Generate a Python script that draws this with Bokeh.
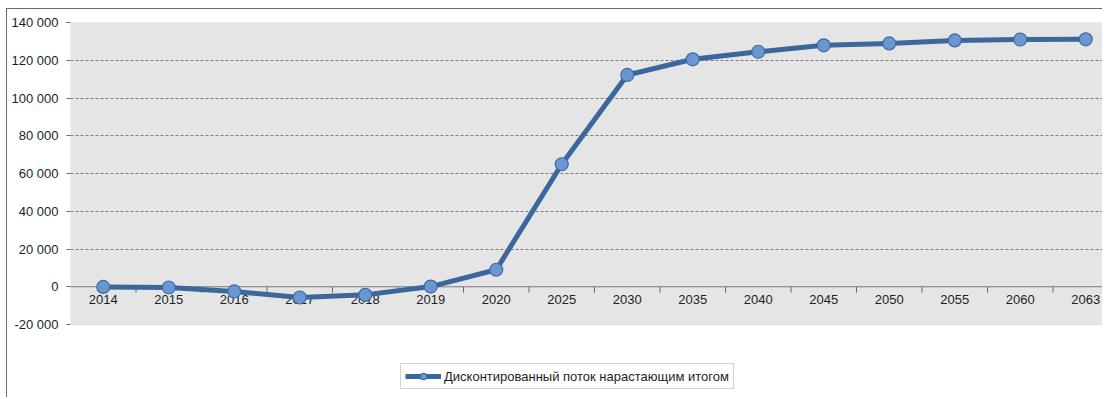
from bokeh.plotting import figure
from bokeh.models import (Range1d, FixedTicker, Legend, LegendItem, BoxAnnotation,
                          Span, ColumnDataSource)
from bokeh.core.properties import value
from bokeh.embed import file_html
from bokeh.resources import INLINE

# ---- data ----
years = ["2014", "2015", "2016", "2017", "2018", "2019", "2020", "2025", "2030",
         "2035", "2040", "2045", "2050", "2055", "2060", "2063"]
cum_flow = [-100, -400, -2500, -5700, -4300, 100, 9000, 64900, 112200,
            120500, 124500, 127900, 128900, 130500, 131000, 131100]
y_ticks = [-20000, 0, 20000, 40000, 60000, 80000, 100000, 120000, 140000]
y_tick_labels = ["-20 000", "0", "20 000", "40 000", "60 000", "80 000",
                 "100 000", "120 000", "140 000"]
series_name = "Дисконтированный поток нарастающим итогом"

xs = list(range(len(years)))
bounds = [i + 0.5 for i in xs[:-1]]
src = ColumnDataSource(dict(x=xs, y=cum_flow, year=years))

FONT = "Liberation Sans"
TXT = "#1e1e1e"

# ---- layout (pixels) ----
W, H = 1096, 389
LEFT, TOP = 63, 13
CAT_PX = 65.5                      # width of one category
y_min, y_max = min(y_ticks), max(y_ticks)
px_per_unit = 302.0 / (y_max - y_min)   # plot area height / value span
frame_h = H - TOP
y_start = y_max - frame_h / px_per_unit

p = figure(width=W, height=H, output_backend="svg", toolbar_location=None,
           x_range=Range1d(-0.5, -0.5 + (W - LEFT) / CAT_PX),
           y_range=Range1d(y_start, y_max),
           x_axis_location=None, min_border_left=LEFT, min_border_top=TOP,
           min_border_right=0, min_border_bottom=0,
           background_fill_color="white", border_fill_color="white",
           outline_line_color=None,
           styles={"margin-left": "6px", "margin-top": "8px",
                   "border-left": "1px solid #6a6a6a", "border-top": "1px solid #6a6a6a"})
p.xgrid.visible = False

# grey plot area
p.add_layout(BoxAnnotation(bottom=y_min, top=y_max, fill_color="#e5e5e5", fill_alpha=1,
                           line_color="#b8b8b8", line_width=1, level="image"))

# y axis
p.yaxis.ticker = FixedTicker(ticks=y_ticks)
p.yaxis.major_label_overrides = {t: l for t, l in zip(y_ticks, y_tick_labels)}
p.yaxis.major_label_text_font = FONT
p.yaxis.major_label_text_font_size = "13px"
p.yaxis.major_label_text_color = TXT
p.yaxis.major_tick_out = 4
p.yaxis.major_tick_in = 0
p.yaxis.minor_tick_line_color = None
p.yaxis.major_tick_line_color = "#6a6a6a"
p.yaxis.axis_line_color = None
p.yaxis.major_label_standoff = 8

p.ygrid.ticker = FixedTicker(ticks=[t for t in y_ticks if 0 < t < y_max])
p.ygrid.grid_line_color = "#7a7a7a"
p.ygrid.grid_line_dash = "3 2"
p.ygrid.grid_line_width = 1

# horizontal category axis crossing at zero
p.add_layout(Span(location=0, dimension="width", line_color="#7a7a7a", line_width=1,
                  level="underlay"))
tick_len = 6 / px_per_unit
p.segment(x0=bounds, y0=[0] * len(bounds), x1=bounds, y1=[-tick_len] * len(bounds),
          line_color="#6a6a6a", line_width=1)
p.text(x=xs, y=[0] * len(xs), text=years, y_offset=8, text_align="center",
       text_baseline="top", text_font=value(FONT), text_font_size=value("13px"),
       text_color=TXT)

# series
LINE = "#3b679c"
ln = p.line("x", "y", source=src, line_color=LINE, line_width=5, line_join="round")
sc = p.scatter("x", "y", source=src, size=13, fill_color="#6a97d0",
               line_color="#3f6ba3", line_width=1.2)

legend = Legend(items=[LegendItem(label=series_name, renderers=[ln, sc])],
                location=(330, 9), label_text_font=FONT, label_text_font_size="13px",
                label_text_color=TXT, glyph_width=36, glyph_height=16, label_height=16,
                label_standoff=3, padding=4, spacing=0,
                border_line_color="#a8a8a8", background_fill_color="white",
                background_fill_alpha=1.0)
p.add_layout(legend, "center")

open("out.html", "w").write(file_html(p, INLINE))
